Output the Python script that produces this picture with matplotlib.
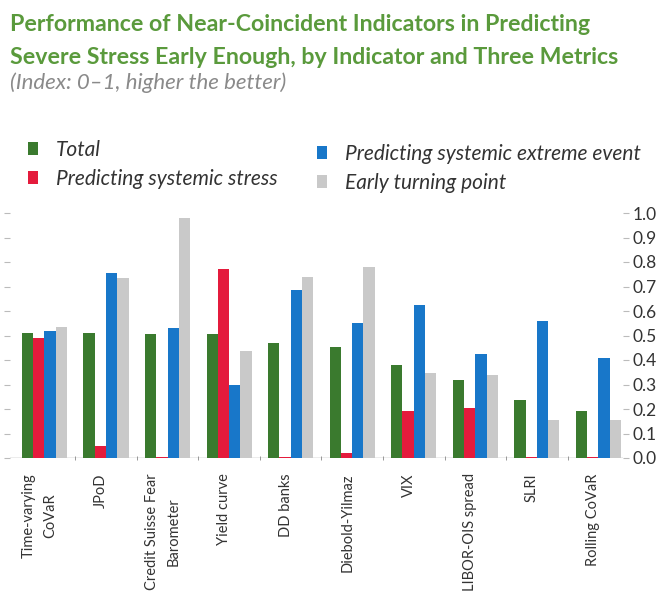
import matplotlib
matplotlib.use("Agg")
import matplotlib.pyplot as plt
import numpy as np

# Chart data
categories = ["Time-varying\nCoVaR", "JPoD", "Credit Suisse Fear\nBarometer", "Yield curve",
              "DD banks", "Diebold-Yilmaz", "VIX", "LIBOR-OIS spread", "SLRI", "Rolling CoVaR"]
total = [0.51, 0.51, 0.505, 0.505, 0.47, 0.455, 0.38, 0.32, 0.235, 0.19]
systemic_stress = [0.49, 0.05, 0.003, 0.77, 0.003, 0.02, 0.19, 0.205, 0.003, 0.003]
extreme_event = [0.52, 0.755, 0.53, 0.30, 0.685, 0.55, 0.625, 0.425, 0.56, 0.41]
turning_point = [0.535, 0.735, 0.98, 0.435, 0.74, 0.78, 0.345, 0.34, 0.155, 0.155]
series_names = ["Total", "Predicting systemic stress",
                "Predicting systemic extreme event", "Early turning point"]
yticks = [0.0, 0.1, 0.2, 0.3, 0.4, 0.5, 0.6, 0.7, 0.8, 0.9, 1.0]

colors = ["#3a7a2e", "#e41b3c", "#1877c9", "#c9c9c9"]

plt.rcParams["font.family"] = ["Lato", "DejaVu Sans"]

W, H = 661, 596
fig = plt.figure(figsize=(W / 100, H / 100), dpi=100)
ax = fig.add_axes([10 / W, 1 - 458 / H, 613 / W, 245 / H])

x = np.arange(len(categories))
w = 0.183
all_series = [total, systemic_stress, extreme_event, turning_point]
for i, (vals, name) in enumerate(zip(all_series, series_names)):
    ax.bar(x + (i - 1.5) * w, vals, width=w, color=colors[i], label=name, zorder=2)

ax.set_xlim(-0.56, 9.40)
ax.set_ylim(0, 1.0)
for s in ax.spines.values():
    s.set_visible(False)
ax.axhline(0, color="#a0a0a0", lw=1, zorder=1)

# y ticks on both sides, labels right
ax.set_yticks(yticks)
ax.set_yticklabels([f"{t:.1f}" for t in yticks])
ax.tick_params(axis="y", left=True, right=True, labelleft=False, labelright=True,
               length=4, width=0.8, color="#bbbbbb", labelsize=12.5, labelcolor="#333333", pad=3)

# category labels, small marks between groups on the baseline
ax.set_xticks(x - 0.08)
ax.set_xticklabels(categories, rotation=90, va="top", ha="center", fontsize=10.5,
                   color="#333333")
for t in ax.get_xticklabels():
    if "\n" in t.get_text():
        t.set_linespacing(1.7)
ax.tick_params(axis="x", length=0, pad=11)
ax.set_xticks(np.arange(len(categories) - 1) + 0.5, minor=True)
ax.tick_params(axis="x", which="minor", length=3, direction="inout", color="#888888")

# legends
h, l = ax.get_legend_handles_labels()
leg_kw = dict(frameon=False, loc="upper left", borderpad=0, borderaxespad=0,
              handlelength=0.5, handleheight=0.55, handletextpad=0.85, labelspacing=0.42,
              prop={"family": ["Lato", "DejaVu Sans"], "style": "italic", "size": 15})
leg1 = fig.legend(h[:2], l[:2], bbox_to_anchor=(28 / W, 1 - 140 / H), **leg_kw)
leg2 = fig.legend(h[2:], l[2:], bbox_to_anchor=(317 / W, 1 - 144 / H), **leg_kw)
for leg in (leg1, leg2):
    for t in leg.get_texts():
        t.set_color("#333333")

# title and subtitle
fig.text(10 / W, 1 - 41 / H,
         "Performance of Near-Coincident Indicators in Predicting\n"
         "Severe Stress Early Enough, by Indicator and Three Metrics",
         fontsize=16.7, fontweight="bold", color="#5a9a3c", va="center", ha="left",
         linespacing=1.65)
fig.text(10 / W, 1 - 83 / H, "(Index: 0\u20131, higher the better)",
         fontsize=16, style="italic", color="#8a8a8a", va="center", ha="left")

fig.savefig("out.png", dpi=100)
